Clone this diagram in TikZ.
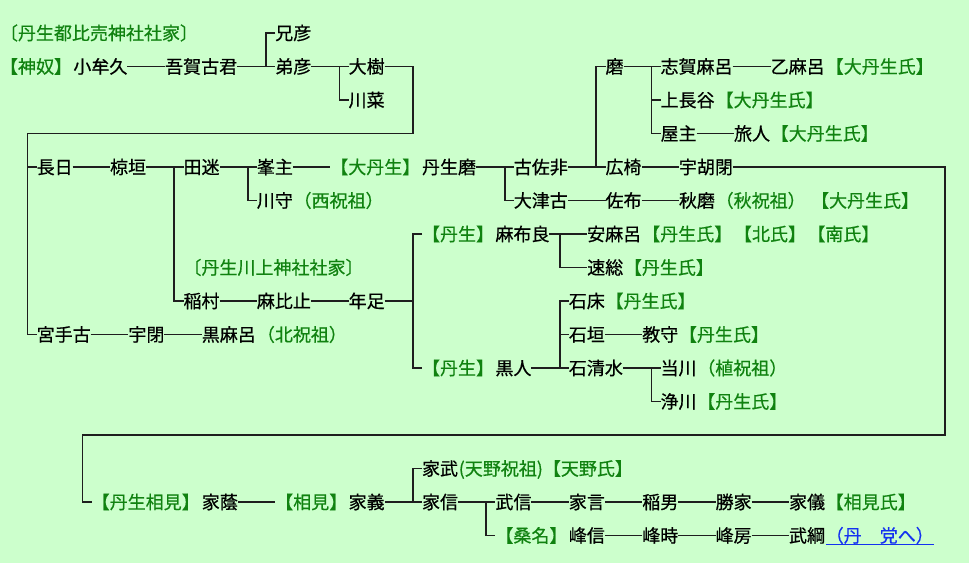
\documentclass[tikz,border=0pt]{standalone}
\usepackage{fontspec}
\newfontfamily\jp{Noto Sans CJK JP}[BoldFont={Noto Sans CJK JP}, BoldFeatures={FakeBold=0.6}]
\definecolor{bg}{RGB}{204,255,204}
\definecolor{tgreen}{RGB}{16,130,16}
\definecolor{linec}{RGB}{30,30,30}
\definecolor{linkc}{RGB}{20,50,240}
\tikzset{
  nm/.style={anchor=west, inner sep=0pt, outer sep=0pt, text height=15.8pt, text depth=2.2pt,
    font=\jp\bfseries\fontsize{18}{18}\selectfont, text=black},
  gl/.style={nm, text=tgreen},
  lk/.style={nm, text=linkc},
  ln/.style={draw=linec, line width=1.8pt},
}
\begin{document}
\begin{tikzpicture}[x=18.35pt, y=-33.5pt]
\useasboundingbox (0,-0.98507) rectangle (52.8065,15.8209);
\fill[bg] (0,-0.98507) rectangle (52.8065,15.8209);
% ---------- rows 0-2
\node[gl] (hdr1) at (0,0) {〔丹生都比売神社社家〕};
\node[nm] (eihiko) at (15,0) {兄彦};
\node[gl] (shinnu) at (0,1) {【神奴】};
\node[nm] (omuku) at (4,1) {小牟久};
\node[nm] (agako) at (9,1) {吾賀古君};
\node[nm] (otohiko) at (15,1) {弟彦};
\node[nm] (ooki) at (19,1) {大樹};
\node[nm] (kawana) at (19,2) {川菜};
\coordinate (j1) at (14.5,1);
\coordinate (j2) at (18.5,1);
\coordinate (t1) at (22.5,3);
\coordinate (t2) at (1.5,3);
% ---------- right upper
\node[nm] (maro) at (33,1) {磨};
\node[nm] (shigamaro) at (36,1) {志賀麻呂};
\node[nm] (otomaro) at (42,1) {乙麻呂};
\node[gl] (oo1) at (45,1) {【大丹生氏】};
\node[nm] (kaminagatani) at (36,2) {上長谷};
\node[gl] (oo2) at (39,2) {【大丹生氏】};
\node[nm] (yanushi) at (36,3) {屋主};
\node[nm] (tabito) at (40,3) {旅人};
\node[gl] (oo3) at (42,3) {【大丹生氏】};
\coordinate (b5) at (35.5,1);
% ---------- row 4
\node[nm] (nagahi) at (2,4) {長日};
\node[nm] (mukugaki) at (6,4) {椋垣};
\node[nm] (tamei) at (10,4) {田迷};
\node[nm] (minenushi) at (14,4) {峯主};
\node[gl] (oonyu) at (18,4) {【大丹生】};
\node[nm] (nyumaro) at (23,4) {丹生磨};
\node[nm] (kosahi) at (28,4) {古佐非};
\node[nm] (hirohashi) at (33,4) {広椅};
\node[nm] (ukohe) at (37,4) {宇胡閉};
\coordinate (b1) at (9.5,4);
\coordinate (b2) at (13.5,4);
\coordinate (b3) at (27.5,4);
\coordinate (b4) at (32.5,4);
\coordinate (t3) at (51.5,12);
\coordinate (t4) at (4.5,12);
% ---------- row 5
\node[nm] (kawamori) at (14,5) {川守};
\node[gl] (nishi) at (16,5) {（西祝祖）};
\node[nm] (ootsuko) at (28,5) {大津古};
\node[nm] (safu) at (33,5) {佐布};
\node[nm] (akimaro) at (37,5) {秋磨};
\node[gl] (aki) at (39,5) {（秋祝祖）};
\node[gl] (oo4) at (44.2,5) {【大丹生氏】};
% ---------- rows 6-7
\node[gl] (nyu1) at (23,6) {【丹生】};
\node[nm] (mafura) at (27,6) {麻布良};
\node[nm] (yasumaro) at (32,6) {安麻呂};
\node[gl] (n1) at (35,6) {【丹生氏】};
\node[gl] (kita) at (40,6) {【北氏】};
\node[gl] (minami) at (44,6) {【南氏】};
\node[gl] (hdr2) at (10,7) {〔丹生川上神社社家〕};
\node[nm] (hayafusa) at (32,7) {速総};
\node[gl] (n2) at (34,7) {【丹生氏】};
\coordinate (b6) at (30.5,6);
% ---------- rows 8-11
\node[nm] (inamura) at (10,8) {稲村};
\node[nm] (mahito) at (14,8) {麻比止};
\node[nm] (toshitari) at (19,8) {年足};
\node[nm] (ishitoko) at (31,8) {石床};
\node[gl] (n3) at (33,8) {【丹生氏】};
\coordinate (b7) at (22.5,8);
\node[nm] (miyateko) at (2,9) {宮手古};
\node[nm] (uhe) at (7,9) {宇閉};
\node[nm] (kuromaro) at (11,9) {黒麻呂};
\node[gl] (kitaso) at (14,9) {（北祝祖）};
\node[nm] (ishigaki) at (31,9) {石垣};
\node[nm] (norimori) at (35,9) {教守};
\node[gl] (n4) at (37,9) {【丹生氏】};
\node[gl] (nyu2) at (23,10) {【丹生】};
\node[nm] (kurohito) at (27,10) {黒人};
\node[nm] (iwashimizu) at (31,10) {石清水};
\node[nm] (masakawa) at (36,10) {当川};
\node[gl] (ueso) at (38,10) {（植祝祖）};
\coordinate (b8) at (30.5,10);
\coordinate (b9) at (35.5,10);
\node[nm] (kiyokawa) at (36,11) {浄川};
\node[gl] (n5) at (38,11) {【丹生氏】};
% ---------- rows 13-15
\node[nm] (ietake) at (23,13) {家武};
\node[gl] (amano) at (25,13) {(天野祝祖)【天野氏】};
\node[gl] (nyusoken) at (5,14) {【丹生相見】};
\node[nm] (iekage) at (11,14) {家蔭};
\node[gl] (oumi) at (15,14) {【相見】};
\node[nm] (ieyoshi) at (19,14) {家義};
\node[nm] (ienobu) at (23,14) {家信};
\node[nm] (takenobu) at (27,14) {武信};
\node[nm] (iekoto) at (31,14) {家言};
\node[nm] (inao) at (35,14) {稲男};
\node[nm] (katsuie) at (39,14) {勝家};
\node[nm] (iegi) at (43,14) {家儀};
\node[gl] (oumishi) at (45,14) {【相見氏】};
\coordinate (b10) at (22.5,14);
\coordinate (b11) at (26.5,14);
\node[gl] (kuwana) at (27,15) {【桑名】};
\node[nm] (minenobu) at (31,15) {峰信};
\node[nm] (minetoki) at (35,15) {峰時};
\node[nm] (minefusa) at (39,15) {峰房};
\node[nm] (taketsuna) at (43,15) {武綱};
\node[lk] (link) at (45,15) {（丹　党へ）};
% ================= connectors
\draw[ln] (omuku.east) -- (agako.west);
\draw[ln] (agako.east) -- (otohiko.west);
\draw[ln] (eihiko.west) -| (j1);
\draw[ln] (otohiko.east) -- (ooki.west);
\draw[ln] (j2) |- (kawana.west);
\draw[ln] (ooki.east) -| (t1) -- (t2) |- (miyateko.west);
\draw[ln] (t2 |- nagahi.west) -- (nagahi.west);
\draw[ln] (maro.east) -- (shigamaro.west);
\draw[ln] (shigamaro.east) -- (otomaro.west);
\draw[ln] (b5) |- (kaminagatani.west);
\draw[ln] (b5) |- (yanushi.west);
\draw[ln] (yanushi.east) -- (tabito.west);
\draw[ln] (nagahi.east) -- (mukugaki.west);
\draw[ln] (mukugaki.east) -- (tamei.west);
\draw[ln] (tamei.east) -- (minenushi.west);
\draw[ln] (minenushi.east) -- (oonyu.west);
\draw[ln] (nyumaro.east) -- (kosahi.west);
\draw[ln] (kosahi.east) -- (hirohashi.west);
\draw[ln] (hirohashi.east) -- (ukohe.west);
\draw[ln] (b1) |- (inamura.west);
\draw[ln] (b2) |- (kawamori.west);
\draw[ln] (b3) |- (ootsuko.west);
\draw[ln] (b4) |- (maro.west);
\draw[ln] (ukohe.east) -| (t3) -- (t4) |- (nyusoken.west);
\draw[ln] (ootsuko.east) -- (safu.west);
\draw[ln] (safu.east) -- (akimaro.west);
\draw[ln] (mafura.east) -- (yasumaro.west);
\draw[ln] (b6) |- (hayafusa.west);
\draw[ln] (inamura.east) -- (mahito.west);
\draw[ln] (mahito.east) -- (toshitari.west);
\draw[ln] (toshitari.east) -- (b7);
\draw[ln] (nyu1.west) -| (b7) |- (nyu2.west);
\draw[ln] (ishitoko.west) -| (b8);
\draw[ln] (b8 |- ishigaki.west) -- (ishigaki.west);
\draw[ln] (kurohito.east) -- (iwashimizu.west);
\draw[ln] (ishigaki.east) -- (norimori.west);
\draw[ln] (miyateko.east) -- (uhe.west);
\draw[ln] (uhe.east) -- (kuromaro.west);
\draw[ln] (iwashimizu.east) -- (masakawa.west);
\draw[ln] (b9) |- (kiyokawa.west);
\draw[ln] (iekage.east) -- (oumi.west);
\draw[ln] (ieyoshi.east) -- (ienobu.west);
\draw[ln] (ietake.west) -| (b10);
\draw[ln] (ienobu.east) -- (takenobu.west);
\draw[ln] (b11) |- (kuwana.west);
\draw[ln] (takenobu.east) -- (iekoto.west);
\draw[ln] (iekoto.east) -- (inao.west);
\draw[ln] (inao.east) -- (katsuie.west);
\draw[ln] (katsuie.east) -- (iegi.west);
\draw[ln] (minenobu.east) -- (minetoki.west);
\draw[ln] (minetoki.east) -- (minefusa.west);
\draw[ln] (minefusa.east) -- (taketsuna.west);
\draw[linkc, line width=1pt] (link.south west) -- (link.south east);
\end{tikzpicture}
\end{document}
